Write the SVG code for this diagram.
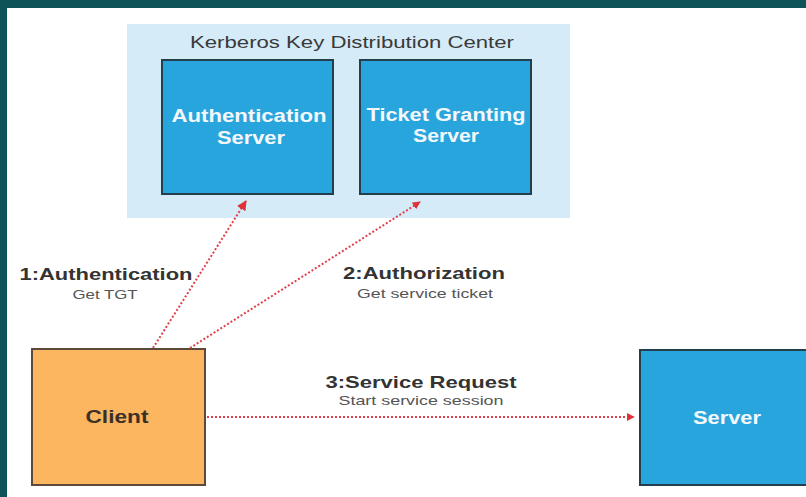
<svg xmlns="http://www.w3.org/2000/svg" width="806" height="497" viewBox="0 0 806 497">
  <defs>
    <marker id="arrowhead" viewBox="0 0 10 10" refX="9" refY="5" markerWidth="5" markerHeight="5" orient="auto" markerUnits="strokeWidth">
      <path d="M0,0 L10,5 L0,10 Z" fill="#e0303a"/>
    </marker>
    <marker id="arrowhead-lg" viewBox="0 0 10 10" refX="9" refY="5" markerWidth="4" markerHeight="4" orient="auto" markerUnits="strokeWidth">
      <path d="M0,0 L10,5 L0,10 Z" fill="#e0303a"/>
    </marker>
  </defs>
  <style>
    .box-blue { fill: #29a5de; stroke: #233f4d; stroke-width: 2; }
    .box-orange { fill: #fcb660; stroke: #5b4a3a; stroke-width: 2; }
    text { font-family: "Liberation Sans", Arial, sans-serif; text-anchor: middle; }
    .node-label-w { font-weight: bold; font-size: 18px; fill: #f4f8fb; }
    .node-label-d { font-weight: bold; font-size: 18px; fill: #3a3028; }
    .step { font-weight: bold; font-size: 17px; fill: #333; }
    .sub { font-size: 13px; fill: #555; }
    .title { font-size: 17px; fill: #3a3a3a; }
    .flow { fill: none; stroke: #e0404a; stroke-width: 2; stroke-dasharray: 2 2; }
  </style>

  <!-- page and frame -->
  <rect x="0" y="0" width="806" height="497" fill="#ffffff"/>
  <rect x="0" y="0" width="806" height="8" fill="#0e5358"/>
  <rect x="0" y="0" width="7" height="497" fill="#0e5358"/>

  <!-- key distribution center container -->
  <g id="kdc">
    <rect x="127" y="24" width="443" height="194" fill="#d5ebf7"/>
    <text class="title" x="352" y="48" textLength="324" lengthAdjust="spacingAndGlyphs">Kerberos Key Distribution Center</text>
  </g>

  <g id="auth-server">
    <rect class="box-blue" x="162" y="60" width="171" height="134"/>
    <text class="node-label-w" x="249" y="122" textLength="155" lengthAdjust="spacingAndGlyphs">Authentication</text>
    <text class="node-label-w" x="251" y="144" textLength="68" lengthAdjust="spacingAndGlyphs">Server</text>
  </g>

  <g id="tgs">
    <rect class="box-blue" x="360" y="60" width="171" height="134"/>
    <text class="node-label-w" x="446" y="121" textLength="159" lengthAdjust="spacingAndGlyphs">Ticket Granting</text>
    <text class="node-label-w" x="446" y="142" textLength="66" lengthAdjust="spacingAndGlyphs">Server</text>
  </g>

  <g id="client">
    <rect class="box-orange" x="32" y="349" width="173" height="136"/>
    <text class="node-label-d" x="117" y="423" textLength="63" lengthAdjust="spacingAndGlyphs">Client</text>
  </g>

  <g id="server">
    <rect class="box-blue" x="640" y="350" width="170" height="135"/>
    <text class="node-label-w" x="727" y="424" textLength="68" lengthAdjust="spacingAndGlyphs">Server</text>
  </g>

  <!-- connectors -->
  <g id="connectors">
    <line class="flow" x1="153" y1="348" x2="246" y2="201" stroke-dasharray="3 1.5" stroke-width="1.6" marker-end="url(#arrowhead)"/>
    <line class="flow" x1="190" y1="348" x2="420" y2="202" marker-end="url(#arrowhead-lg)"/>
    <line class="flow" x1="207" y1="417" x2="634" y2="417" marker-end="url(#arrowhead-lg)"/>
  </g>

  <!-- connector labels -->
  <g id="labels">
    <text class="step" x="106" y="280" textLength="173" lengthAdjust="spacingAndGlyphs">1:Authentication</text>
    <text class="sub" x="105" y="299" textLength="65" lengthAdjust="spacingAndGlyphs">Get TGT</text>
    <text class="step" x="424" y="279" textLength="162" lengthAdjust="spacingAndGlyphs">2:Authorization</text>
    <text class="sub" x="425" y="298" textLength="136" lengthAdjust="spacingAndGlyphs">Get service ticket</text>
    <text class="step" x="421" y="388" textLength="191" lengthAdjust="spacingAndGlyphs">3:Service Request</text>
    <text class="sub" x="421" y="405" textLength="165" lengthAdjust="spacingAndGlyphs">Start service session</text>
  </g>
</svg>
